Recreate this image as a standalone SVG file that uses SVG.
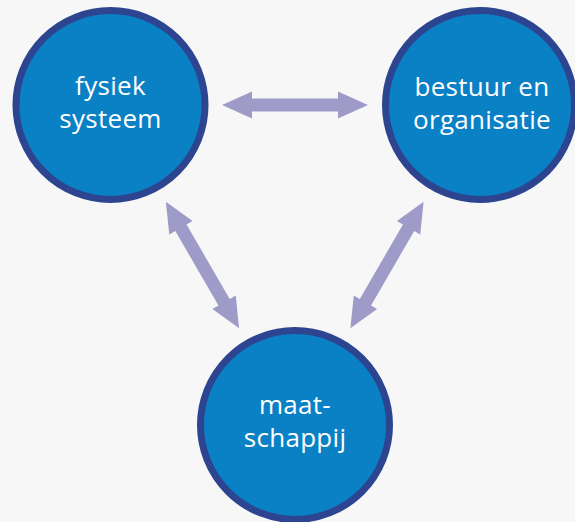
<svg xmlns="http://www.w3.org/2000/svg" width="575" height="522" viewBox="0 0 575 522">
<defs>
<style>
.node circle{fill:#0a80c5;stroke:#2d4590;stroke-width:7}
.node text{fill:#ffffff;font-family:"Open Sans","Noto Sans","Liberation Sans",sans-serif;font-size:26px;letter-spacing:0.3px;text-anchor:middle}
.arrow{fill:#9f9bc9}
</style>
<path id="dbl" d="M-73,0 L-43,-13.5 L-43,-6.5 L43,-6.5 L43,-13.5 L73,0 L43,13.5 L43,6.5 L-43,6.5 L-43,13.5 Z"/>
</defs>
<rect x="0" y="0" width="575" height="522" fill="#f7f7f7"/>
<g id="connectors" class="arrow">
<use href="#dbl" transform="translate(295,105)"/>
<use href="#dbl" transform="translate(202.5,265) rotate(59.9)"/>
<use href="#dbl" transform="translate(387,265) rotate(-59.9)"/>
</g>
<g id="fysiek-systeem" class="node">
<circle cx="110.5" cy="105" r="94.5"/>
<text x="110.5" y="95">fysiek</text>
<text x="110.5" y="128">systeem</text>
</g>
<g id="bestuur-en-organisatie" class="node">
<circle cx="480" cy="105" r="94.5"/>
<text x="482" y="96">bestuur en</text>
<text x="482" y="129">organisatie</text>
</g>
<g id="maatschappij" class="node">
<circle cx="295" cy="425" r="94.5"/>
<text x="295" y="414">maat-</text>
<text x="295" y="447">schappij</text>
</g>
</svg>
